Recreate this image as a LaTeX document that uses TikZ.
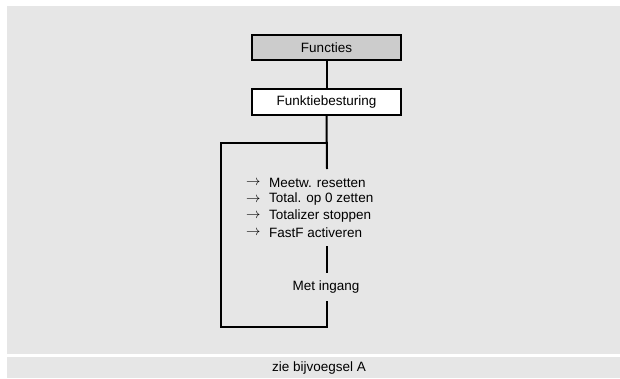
\documentclass[tikz,border=0pt]{standalone}
\usepackage{fontspec}
\setmainfont{Liberation Sans}
\definecolor{panel}{HTML}{E6E6E6}
\definecolor{headfill}{HTML}{CCCCCC}
\begin{document}
\begin{tikzpicture}[x=1pt,y=1pt,
  box/.style={draw=black,line width=2pt,minimum width=149pt,minimum height=25pt,inner sep=0pt,font=\fontsize{13.5}{16}\selectfont},
  txt/.style={inner sep=0pt,font=\fontsize{13.5}{16}\selectfont},
  wire/.style={line width=2pt,line cap=butt}]
\useasboundingbox (0,0) rectangle (620,-378);
\fill[panel] (7,-6) rectangle (620,-354);
\fill[panel] (7,-357) rectangle (620,-378);
\node[box,fill=headfill] (fun) at (326.5,-47.5) {Functies};
\node[box,fill=white,minimum height=26pt] (fb) at (326.5,-102) {Funktiebesturing};
\draw[wire] (fun.south) -- (fb.north);
\coordinate (a) at (327,-169);
\coordinate (b) at (327,-143);
\coordinate (c1) at (221,-143);
\coordinate (c2) at (221,-327);
\coordinate (c3) at (327,-327);
\coordinate (d) at (327,-301);
\coordinate (e1) at (327,-246);
\coordinate (e2) at (327,-273);
\draw[wire] (fb.south) -- (a);
\draw[wire,line join=miter] ([xshift=1pt]b) -- (c1) -- (c2) -- (c3) -- (d);
\draw[wire] (e1) -- (e2);
\foreach \i/\t/\y in {1/Meetw. resetten/183, 2/Total. op 0 zetten/199.5, 3/Totalizer stoppen/216, 4/FastF activeren/232.5}{
  \node[txt,anchor=west] (ar\i) at (246,-\y) {$\rightarrow$};
  \node[txt,anchor=west] (l\i) at (269,-\y) {\t};
}
\node[txt] (mi) at (326,-287) {Met ingang};
\node[txt] (foot) at (319,-368.5) {zie bijvoegsel A};
\end{tikzpicture}
\end{document}
